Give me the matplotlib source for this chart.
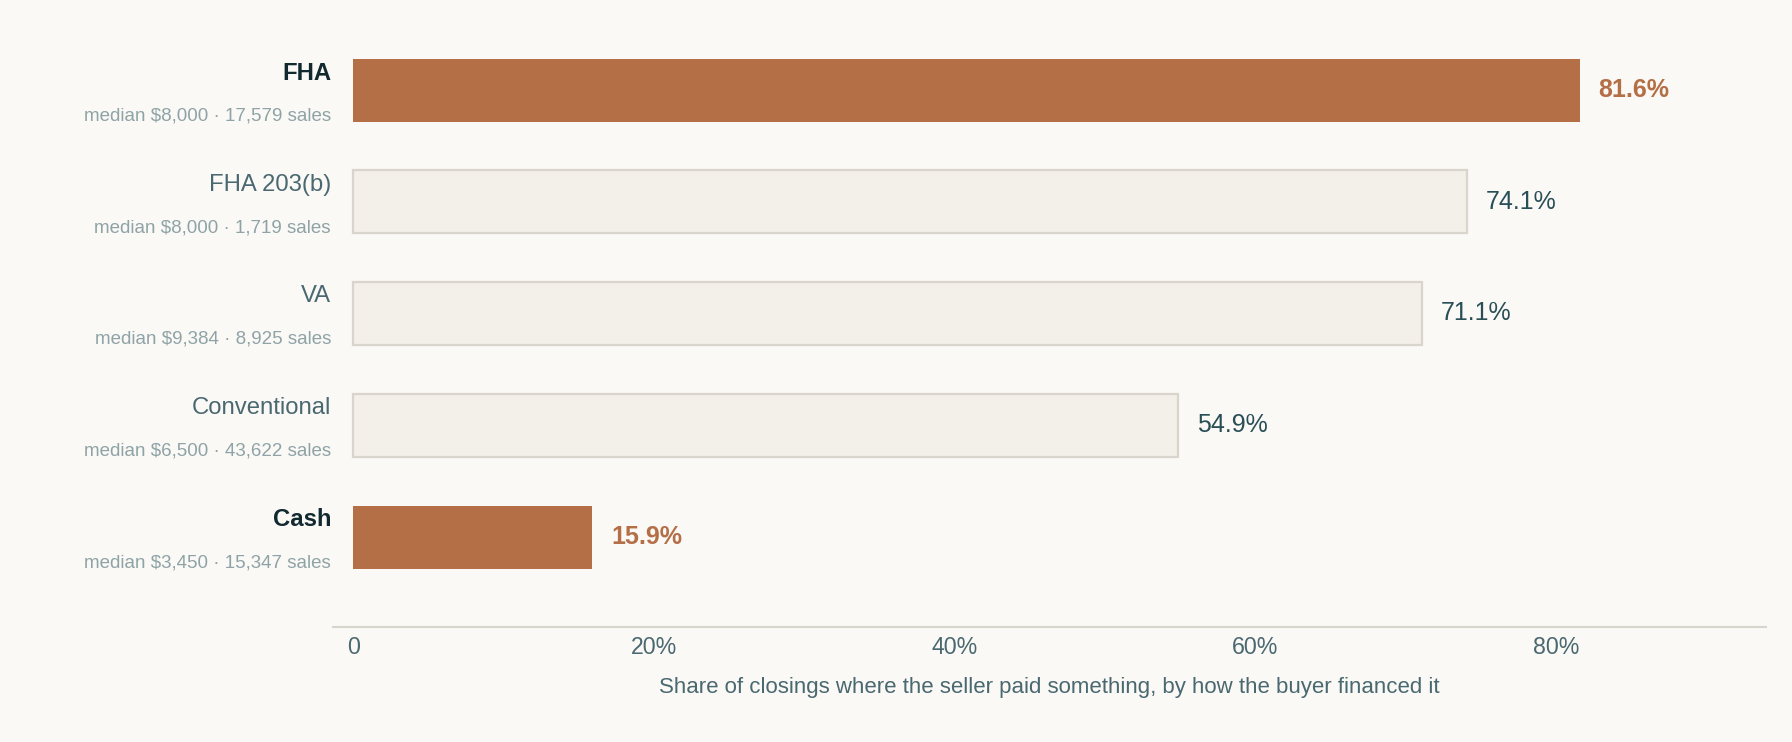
import matplotlib
matplotlib.use("Agg")
import matplotlib.pyplot as plt

categories = ["FHA", "FHA 203(b)", "VA", "Conventional", "Cash"]
shares = [81.6, 74.1, 71.1, 54.9, 15.9]
medians = ["$8,000", "$8,000", "$9,384", "$6,500", "$3,450"]
sales = ["17,579", "1,719", "8,925", "43,622", "15,347"]
highlight = [True, False, False, False, True]
tick_values = [0, 20, 40, 60, 80]
tick_labels = ["0", "20%", "40%", "60%", "80%"]
x_label = "Share of closings where the seller paid something, by how the buyer financed it"

BG = "#FAF9F6"
ORANGE = "#B46F47"
LIGHT = "#F3EFE9"
EDGE = "#D9D4CC"
DARK = "#12292F"
MID = "#4A6870"
SUB = "#8FA3A6"
VAL = "#294E56"

plt.rcParams["font.family"] = ["Liberation Sans", "DejaVu Sans"]

W, H = 1792, 742
fig = plt.figure(figsize=(W / 100, H / 100), dpi=100, facecolor=BG)
ax_left, ax_right, ax_top, ax_bottom = 333, 1766, 20, 627
ax = fig.add_axes([ax_left / W, (H - ax_bottom) / H, (ax_right - ax_left) / W, (ax_bottom - ax_top) / H])
ax.set_facecolor(BG)

px_per_unit = 15.03
zero_px = 353.3
ax.set_xlim(-(zero_px - ax_left) / px_per_unit, (ax_right - zero_px) / px_per_unit)
row_px = 111.75
first_px = 90
ax.set_ylim(len(categories) - 1 + (ax_bottom - (first_px + row_px * (len(categories) - 1))) / row_px,
            -(first_px - ax_top) / row_px)

bar_h = 63 / row_px
for i, (cat, v, hl) in enumerate(zip(categories, shares, highlight)):
    if hl:
        ax.barh(i, v, height=bar_h, color=ORANGE, edgecolor="none", zorder=2)
    else:
        ax.barh(i, v, height=bar_h, color=LIGHT, edgecolor=EDGE, linewidth=1.6, zorder=2)
    ax.annotate(f"{v:.1f}%", xy=(v, i), xytext=(19, 0), textcoords="offset pixels",
                ha="left", va="center", fontsize=18,
                color=ORANGE if hl else VAL, fontweight="bold" if hl else "normal")
    ytr = ax.get_yaxis_transform()
    ax.annotate(cat, xy=(0, i), xycoords=ytr, xytext=(-2, 17), textcoords="offset pixels",
                ha="right", va="center", fontsize=17.2,
                color=DARK if hl else MID, fontweight="bold" if hl else "normal")
    ax.annotate(f"median {medians[i]} \u00b7 {sales[i]} sales", xy=(0, i), xycoords=ytr,
                xytext=(-2, -26), textcoords="offset pixels",
                ha="right", va="center", fontsize=13.5, color=SUB)

ax.set_xticks(tick_values)
ax.set_xticklabels(tick_labels)
ax.set_yticks([])
ax.tick_params(axis="x", length=0, pad=6.5, labelsize=16.7, labelcolor=MID)
for s in ["top", "right", "left"]:
    ax.spines[s].set_visible(False)
ax.spines["bottom"].set_color(EDGE)
ax.spines["bottom"].set_linewidth(1.5)

ax.annotate(x_label, xy=(0.5, 0), xycoords="axes fraction", xytext=(0, -60),
            textcoords="offset pixels", ha="center", va="center", fontsize=16, color=MID)

fig.savefig("out.png", dpi=100, facecolor=BG)
